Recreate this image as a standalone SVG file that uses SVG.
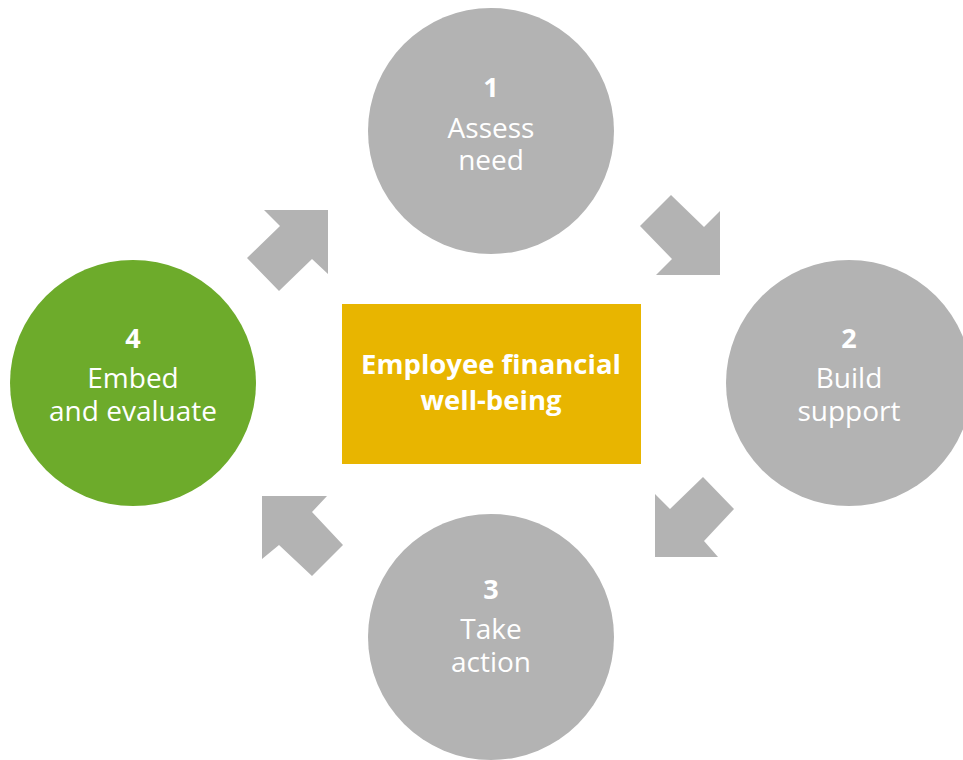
<svg xmlns="http://www.w3.org/2000/svg" width="963" height="760" viewBox="0 0 963 760">
<style>
.c{fill:#b3b3b3}
.g{fill:#6dab2b}
.a{fill:#b3b3b3}
.n{font-family:"Open Sans","Liberation Sans",sans-serif;font-weight:700;font-size:27px;fill:#fff;text-anchor:middle}
.t{font-family:"Open Sans","Liberation Sans",sans-serif;font-weight:400;font-size:28px;fill:#fff;text-anchor:middle}
.m{font-family:"Open Sans","Liberation Sans",sans-serif;font-weight:700;font-size:27.5px;fill:#fff;text-anchor:middle}
</style>
<rect width="963" height="760" fill="#fff"/>
<g id="connectors">
<polygon class="a" points="264,210 328,210 328,274 312,259 279,291 247,258 280,226"/>
<polygon class="a" points="671,195 704,227 720,211 720,275 656,275 672,259 640,226"/>
<polygon class="a" points="703,477 734,509 704,541 718,557 655,557 655,494 670,509"/>
<polygon class="a" points="262,496 327,496 312,512 343,545 312,576 279,545 262,559"/>
</g>
<g id="center">
<rect x="342" y="304" width="299" height="160" fill="#e8b500"/>
<text class="m" x="491" y="374">Employee financial</text>
<text class="m" x="491" y="410">well-being</text>
</g>
<g id="step1">
<circle class="c" cx="491" cy="131" r="123"/>
<text class="n" x="491" y="97">1</text>
<text class="t" x="491" y="138">Assess</text>
<text class="t" x="491" y="170">need</text>
</g>
<g id="step2">
<circle class="c" cx="849" cy="383" r="123"/>
<text class="n" x="849" y="348">2</text>
<text class="t" x="849" y="388">Build</text>
<text class="t" x="849" y="421">support</text>
</g>
<g id="step3">
<circle class="c" cx="491" cy="637" r="123"/>
<text class="n" x="491" y="599">3</text>
<text class="t" x="491" y="639">Take</text>
<text class="t" x="491" y="672">action</text>
</g>
<g id="step4">
<circle class="g" cx="133" cy="383" r="123"/>
<text class="n" x="133" y="348">4</text>
<text class="t" x="133" y="388">Embed</text>
<text class="t" x="133" y="421">and evaluate</text>
</g>
</svg>
